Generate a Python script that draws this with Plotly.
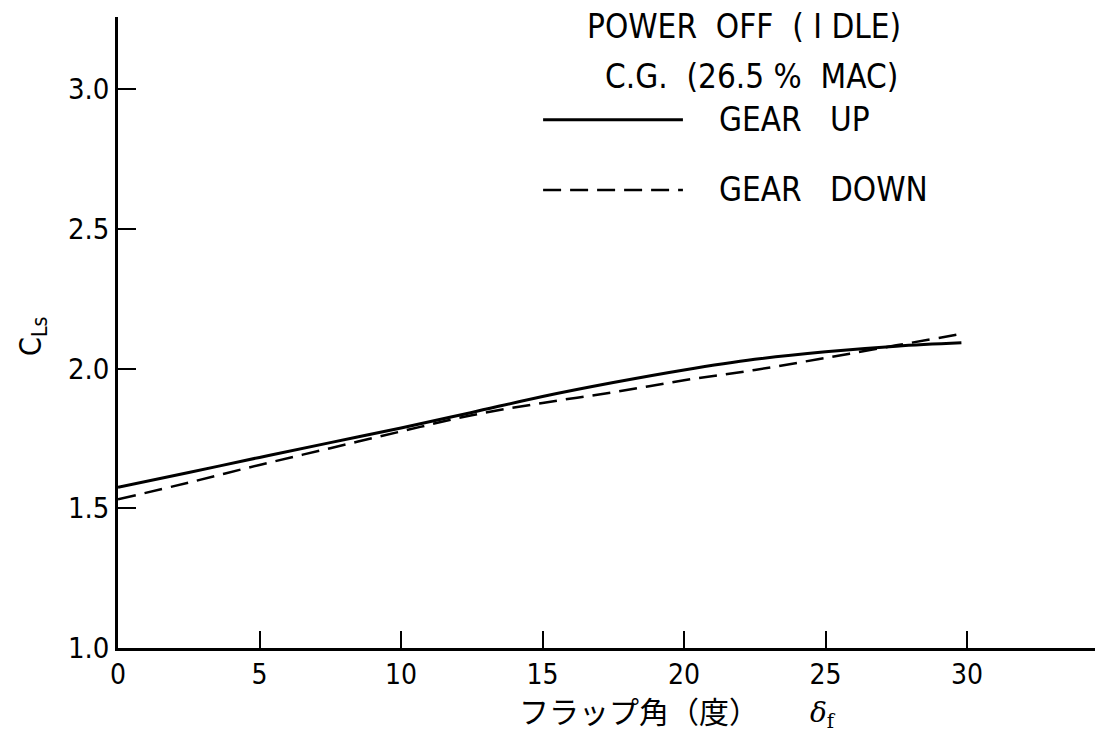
import plotly.graph_objects as go

# Data
flap_angle = [0, 2.5, 5, 7.5, 10, 12.5, 15, 17.5, 20, 22.5, 25, 27.5, 29.8]
cls_gear_up = [1.575, 1.628, 1.682, 1.735, 1.787, 1.843, 1.900, 1.950, 1.995, 2.033, 2.060, 2.080, 2.092]
flap_angle_dn = [0, 2.5, 5, 7.5, 10, 12.5, 15, 17.5, 20, 22.5, 25, 27.5, 29.7]
cls_gear_down = [1.532, 1.592, 1.655, 1.715, 1.775, 1.833, 1.877, 1.915, 1.958, 1.995, 2.038, 2.083, 2.122]

x_ticks = [0, 5, 10, 15, 20, 25, 30]
y_ticks = [1.0, 1.5, 2.0, 2.5, 3.0]
y_tick_text = ["1.0", "1.5", "2.0", "2.5", "3.0"]

FONT = "DejaVu Sans Condensed, Liberation Sans Narrow, sans-serif"
CJK = "Noto Sans CJK JP, Noto Sans CJK SC, sans-serif"

fig = go.Figure()
fig.add_trace(go.Scatter(x=flap_angle, y=cls_gear_up, mode="lines", line_shape="spline",
                         line=dict(color="black", width=3), name="GEAR UP", showlegend=False))
fig.add_trace(go.Scatter(x=flap_angle_dn, y=cls_gear_down, mode="lines", line_shape="spline",
                         line=dict(color="black", width=2.5, dash="18px,9px"), name="GEAR DOWN",
                         showlegend=False))

# legend samples
fig.add_shape(type="line", x0=15.02, x1=19.96, y0=2.890, y1=2.890, xref="x", yref="y",
              line=dict(color="black", width=3))
fig.add_shape(type="line", x0=15.02, x1=19.96, y0=2.639, y1=2.639, xref="x", yref="y",
              line=dict(color="black", width=2.5, dash="18px,9px"))

ann_font = dict(family=FONT, size=33, color="black")
fig.add_annotation(x=22.12, y=3.223, xref="x", yref="y", text="POWER&nbsp;&nbsp;OFF&nbsp;&nbsp;( I DLE)",
                   showarrow=False, font=ann_font, xanchor="center", yanchor="middle")
fig.add_annotation(x=22.4, y=3.044, xref="x", yref="y", text="C.G.&nbsp;&nbsp;(26.5 %&nbsp;&nbsp;MAC)",
                   showarrow=False, font=ann_font, xanchor="center", yanchor="middle")
fig.add_annotation(x=21.17, y=2.890, xref="x", yref="y", text="GEAR&nbsp;&nbsp;&nbsp;UP",
                   showarrow=False, font=ann_font, xanchor="left", yanchor="middle")
fig.add_annotation(x=21.17, y=2.639, xref="x", yref="y", text="GEAR&nbsp;&nbsp;&nbsp;DOWN",
                   showarrow=False, font=ann_font, xanchor="left", yanchor="middle")

# axis titles
fig.add_annotation(x=-0.087, y=2.113, xref="paper", yref="y", text="C<sub>Ls</sub>",
                   showarrow=False, textangle=-90, font=dict(family=FONT, size=30, color="black"),
                   xanchor="center", yanchor="middle")
fig.add_annotation(x=(517 - 118) / 977, y=-0.098, xref="paper", yref="paper", text="フラップ角（度）",
                   showarrow=False, font=dict(family=CJK, size=30, color="black"),
                   xanchor="left", yanchor="middle")
fig.add_annotation(x=(808 - 118) / 977, y=-0.105, xref="paper", yref="paper", text="<i>δ</i><sub>f</sub>",
                   showarrow=False, font=dict(family="DejaVu Serif, serif", size=28, color="black"),
                   xanchor="left", yanchor="middle")

fig.update_xaxes(range=[0, 34.52], tickvals=x_ticks, ticks="inside", ticklen=17, tickwidth=2,
                 tickcolor="black", showline=True, linecolor="black", linewidth=2.5,
                 showgrid=False, zeroline=False, tickfont=dict(family=FONT, size=28, color="black"))
fig.update_yaxes(range=[1.0, 3.258], tickvals=y_ticks, ticktext=y_tick_text, ticks="inside",
                 ticklen=18, tickwidth=2, tickcolor="black", showline=True, linecolor="black",
                 linewidth=2.5, showgrid=False, zeroline=False,
                 tickfont=dict(family=FONT, size=29, color="black"))

fig.update_layout(width=1096, height=740, margin=dict(l=118, r=1, t=17, b=92),
                  plot_bgcolor="white", paper_bgcolor="white", showlegend=False)

fig.write_html("out.html")
